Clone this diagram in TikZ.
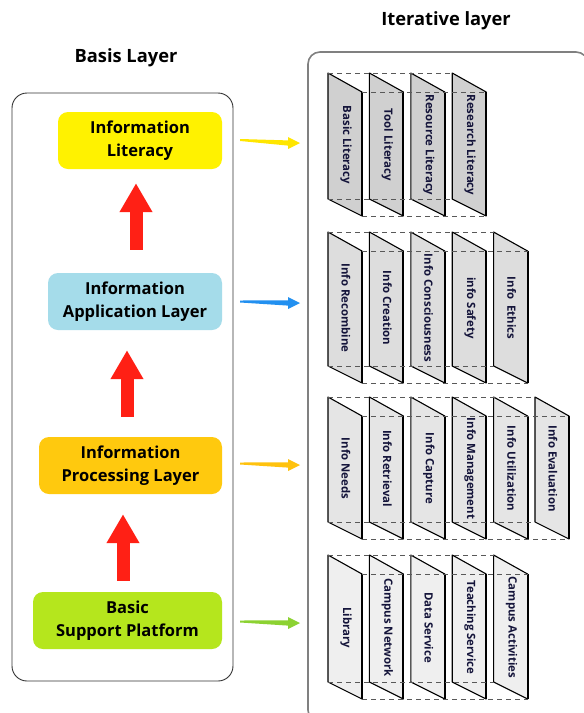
\documentclass[tikz,border=0pt]{standalone}
\usepackage{fontspec}
\setmainfont{Open Sans}
\usetikzlibrary{calc,arrows.meta}

\definecolor{litfill}{HTML}{FFF200}
\definecolor{appfill}{HTML}{A5DCEA}
\definecolor{procfill}{HTML}{FFC90E}
\definecolor{basefill}{HTML}{B5E61D}
\definecolor{uparrow}{HTML}{FF2015}
\definecolor{yelarrow}{HTML}{FFE600}
\definecolor{bluarrow}{HTML}{2290F0}
\definecolor{orarrow}{HTML}{FFC20E}
\definecolor{grnarrow}{HTML}{8CD232}
\definecolor{panelink}{HTML}{14143A}
\definecolor{rowA}{HTML}{D0D0D0}
\definecolor{rowB}{HTML}{DDDDDD}
\definecolor{rowC}{HTML}{E5E5E5}
\definecolor{rowD}{HTML}{EFEFEF}

% slim tapered arrow from a tail point to a tip point
\newcommand\slimarrow[3]{%
  \fill[#1] ($(#2)+(0,-1)$) -- ($(#3)+(-12,-2.6)$) -- ($(#3)+(-12,-6)$) -- (#3)
    -- ($(#3)+(-12,6)$) -- ($(#3)+(-12,2.6)$) -- ($(#2)+(0,1)$) -- cycle;}

% a row of slanted panels with dashed guide lines
% #1 name, #2 top y, #3 bottom y, #4 fill, #5 number of panels, #6 labels
\newcommand\panelrow[6]{%
  \foreach \lab [count=\i] in {#6} {
    \pgfmathsetmacro\xl{328+(\i-1)*41.4}
    \pgfmathsetmacro\xr{\xl+34}
    \filldraw[panelface, fill=#4] (\xl,#2) -- (\xr,#2+19) -- (\xr,#3+17) -- (\xl,#3) -- cycle;
    \draw[panelfront] (\xr,#2+19) -- (\xr,#3+17);
    \node[panellabel] (#1-\i) at ({\xl+18},{(#2+#3)/2+9}) {\lab};
  }
  \pgfmathsetmacro\xa{328+(#5-1)*41.4}
  \pgfmathsetmacro\xb{\xa+34}
  \draw[backline] (328,#2) -- (\xa,#2);
  \draw[backline] (362,#2+19) -- (\xb,#2+19);
  \draw[backline] (328,#3) -- (\xa,#3);
  \draw[backline] (362,#3+17) -- (\xb,#3+17);
}

\begin{document}
\begin{tikzpicture}[x=1pt,y=-1pt,
  heading/.style={font=\bfseries\fontsize{18.3}{20}\selectfont},
  layerbox/.style={rounded corners=10pt, align=center, inner sep=0pt,
    font=\bfseries\fontsize{16.5}{23}\selectfont, minimum height=57pt},
  upstep/.style={line width=13pt, draw=uparrow, -{Triangle[width=31pt,length=29pt]}},
  panelface/.style={draw=black, line width=1.1pt, line join=round},
  panelfront/.style={draw=black, line width=2pt},
  panellabel/.style={rotate=-90, inner sep=0pt, text=panelink,
    font=\bfseries\fontsize{11.4}{13}\selectfont},
  backline/.style={draw=black!65, line width=0.9pt, dash pattern=on 5pt off 4pt},
]
\useasboundingbox (0,0) rectangle (584,713);
\fill[white] (0,0) rectangle (584,713);

% titles
\node[heading] (basis) at (126,58) {Basis Layer};
\node[heading] (iter) at (446,21) {Iterative layer};

% frames
\draw[black!80, line width=0.9pt, rounded corners=15pt] (12,93) rectangle (233,681);
\draw[black!50, line width=1.6pt, rounded corners=12pt] (308,52) rectangle (588,722);

% basis layers
\node[layerbox, fill=litfill, minimum width=164pt] (lit) at (140,140.5) {Information\\Literacy};
\node[layerbox, fill=appfill, minimum width=174pt] (app) at (135,301.5) {Information\\Application Layer};
\node[layerbox, fill=procfill, minimum width=183pt] (proc) at (130.5,465.5) {Information\\Processing Layer};
\node[layerbox, fill=basefill, minimum width=189pt] (base) at (127.5,620.5) {Basic\\Support Platform};

% upward arrows
\draw[upstep] ($(app.north)+(1,-23)$) -- ($(lit.south)+(-4,14)$);
\draw[upstep] ($(proc.north)+(-3.5,-20)$) -- ($(app.south)+(-8,20)$);
\draw[upstep] ($(base.north)+(-4.5,-11)$) -- ($(proc.south)+(-7.5,20)$);

% panel rows
\panelrow{lit}{73}{199}{rowA}{4}{Basic Literacy,Tool Literacy,Resource Literacy,Research Literacy}
\panelrow{app}{232}{366}{rowB}{5}{Info Recombine,Info Creation,Info Consciousness,info Safety,Info~~Ethics}
\panelrow{proc}{397}{522}{rowC}{6}{Info Needs,Info Retrieval,Info Capture,Info Management,Info Utilization,Info Evaluation}
\panelrow{base}{555}{682}{rowD}{5}{Library,Campus Network,Data Service,Teaching Service,Campus Activities}

% arrows into the panel rows
\coordinate (t1) at ($(lit.east)+(18,-0.5)$);
\coordinate (h1) at (300,143);
\coordinate (t2) at ($(app.east)+(18,0)$);
\coordinate (h2) at (300,303);
\coordinate (t3) at ($(proc.east)+(18,-2)$);
\coordinate (h3) at (300,465);
\coordinate (t4) at ($(base.east)+(18,1)$);
\coordinate (h4) at (300,623);
\slimarrow{yelarrow}{t1}{h1}
\slimarrow{bluarrow}{t2}{h2}
\slimarrow{orarrow}{t3}{h3}
\slimarrow{grnarrow}{t4}{h4}
\end{tikzpicture}
\end{document}
